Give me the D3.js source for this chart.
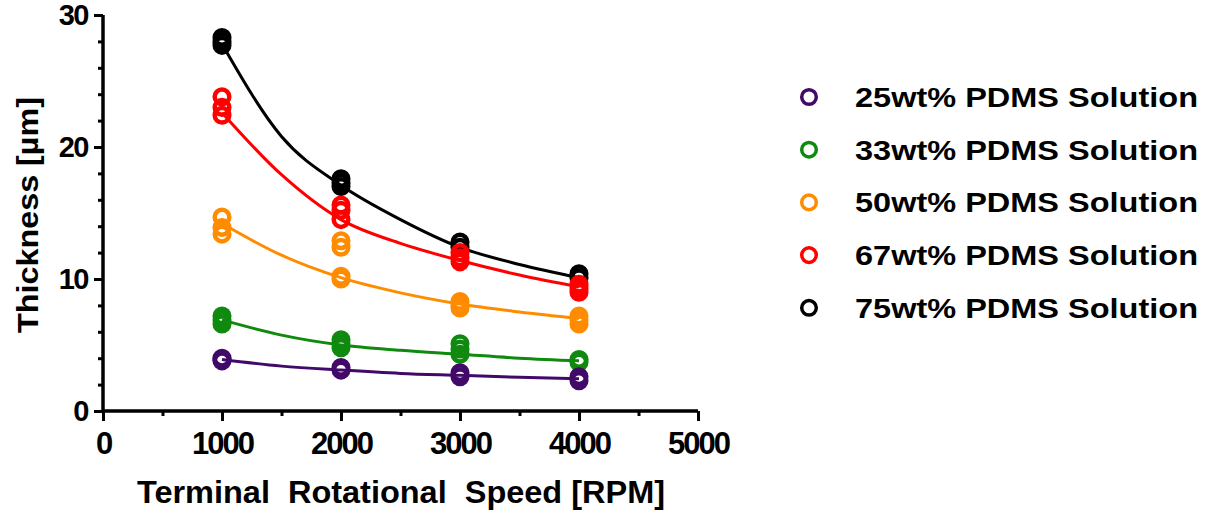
<!DOCTYPE html>
<html><head><meta charset="utf-8">
<script src="https://cdn.jsdelivr.net/npm/d3@7"></script>
<style>body{margin:0;background:#fff}svg{display:block}text{font-family:"Liberation Sans",Arial,sans-serif;font-weight:bold}</style>
</head><body><svg id="c" width="1218" height="512"></svg>
<script>
const seriesNames = ["25wt% PDMS Solution","33wt% PDMS Solution","50wt% PDMS Solution","67wt% PDMS Solution","75wt% PDMS Solution"];
const seriesColors = ["#420a68","#0f8a0f","#ff8c00","#ff0000","#000000"];
const speeds = [1000,2000,3000,4000];
// replicate measurements per series, per speed
const pts25 = [[4.0,3.9,3.8],[3.3,3.1],[2.9,2.6],[2.6,2.3]];
const pts33 = [[7.2,6.9,6.6],[5.4,5.1,4.8],[5.1,4.7,4.3],[3.9,3.7]];
const pts50 = [[14.7,13.9,13.4],[12.9,12.4,10.2,10.0],[8.3,8.0,7.8],[7.2,6.9,6.6]];
const pts67 = [[23.8,23.0,22.4],[15.6,15.2,14.5],[12.0,11.6,11.3],[9.6,9.3,9.0]];
const pts75 = [[28.3,28.0,27.7],[17.6,17.3,17.0],[12.8,12.4],[10.4,10.1]];
// fitted curve values
const fitX = [1000,1500,2000,2500,3000,3500,4000];
const fit25 = [3.9,3.4,3.1,2.85,2.7,2.55,2.45];
const fit33 = [6.9,5.75,5.0,4.6,4.3,4.0,3.8];
const fit50 = [14.2,11.8,10.1,8.95,8.1,7.5,7.0];
const fit67 = [22.6,17.9,14.5,12.7,11.4,10.3,9.4];
const fit75 = [27.8,20.8,17.1,14.5,12.4,11.1,10.1];
const xTicks = [0,1000,2000,3000,4000,5000];
const yTicks = [0,10,20,30];

const allPts = [pts25,pts33,pts50,pts67,pts75];
const allFit = [fit25,fit33,fit50,fit67,fit75];

const svg = d3.select("#c");
const x = d3.scaleLinear().domain([0,5000]).range([103,698]);
const y = d3.scaleLinear().domain([0,30]).range([411,15]);

// axes
const gx = svg.append("g").attr("transform","translate(0,411)");
gx.call(d3.axisBottom(x).tickValues(d3.range(0,5001,500)).tickSize(5).tickFormat(""));
gx.append("g").call(d3.axisBottom(x).tickValues(xTicks).tickSize(10).tickFormat(d3.format("d")).tickPadding(10));
gx.selectAll(".domain").attr("stroke","#000").attr("stroke-width",3).attr("d",`M${x(0)},0H${x(5000)}`);
gx.selectAll(".tick line").attr("stroke","#000").attr("stroke-width",3);
gx.selectAll(".tick text").attr("fill","#000").attr("font-size",31).attr("letter-spacing","-2px").attr("dy","0.74em");

const gy = svg.append("g").attr("transform","translate(103,0)");
gy.call(d3.axisLeft(y).tickValues(d3.range(0,30.1,2)).tickSize(5).tickFormat(""));
gy.append("g").call(d3.axisLeft(y).tickValues(yTicks).tickSize(9).tickFormat(d3.format("d")).tickPadding(6));
gy.selectAll(".domain").attr("stroke","#000").attr("stroke-width",3).attr("d",`M0,${y(0)+1}V${y(30)}`);
gy.selectAll(".tick line").attr("stroke","#000").attr("stroke-width",3);
gy.selectAll(".tick text").attr("fill","#000").attr("font-size",29).attr("letter-spacing","-1.5px");

// titles
svg.append("text").attr("transform","translate(38,215) rotate(-90)").attr("text-anchor","middle")
  .attr("font-size",30).attr("textLength",236).attr("lengthAdjust","spacingAndGlyphs").text("Thickness [µm]");
svg.append("text").attr("x",401).attr("y",503).attr("text-anchor","middle").attr("font-size",31)
  .attr("textLength",528).attr("lengthAdjust","spacingAndGlyphs").attr("xml:space","preserve")
  .style("white-space","pre").text("Terminal  Rotational  Speed [RPM]");

// curves and points, drawn from the 75% series down to 25%
const line = d3.line().x(d=>x(d[0])).y(d=>y(d[1])).curve(d3.curveMonotoneX);
for (let i = 4; i >= 0; i--) {
  const c = seriesColors[i];
  svg.append("path").attr("d", line(fitX.map((v,j)=>[v, allFit[i][j]])))
    .attr("fill","none").attr("stroke",c).attr("stroke-width",3);
  const flat = [];
  allPts[i].forEach((arr,j)=>arr.forEach(v=>flat.push([speeds[j],v])));
  svg.append("g").selectAll("circle").data(flat).join("circle")
    .attr("cx",d=>x(d[0])).attr("cy",d=>y(d[1])).attr("r",7.3)
    .attr("fill","none").attr("stroke",c).attr("stroke-width",4.5);
}

// legend
const lg = svg.append("g");
seriesNames.forEach((n,i)=>{
  const yy = 97 + i*52.7;
  lg.append("circle").attr("cx",809).attr("cy",yy).attr("r",7.3).attr("fill","none")
    .attr("stroke",seriesColors[i]).attr("stroke-width",3.5);
  lg.append("text").attr("x",855).attr("y",yy+10).attr("font-size",28).attr("fill","#000")
    .attr("textLength",343).attr("lengthAdjust","spacingAndGlyphs").text(n);
});
</script></body></html>
